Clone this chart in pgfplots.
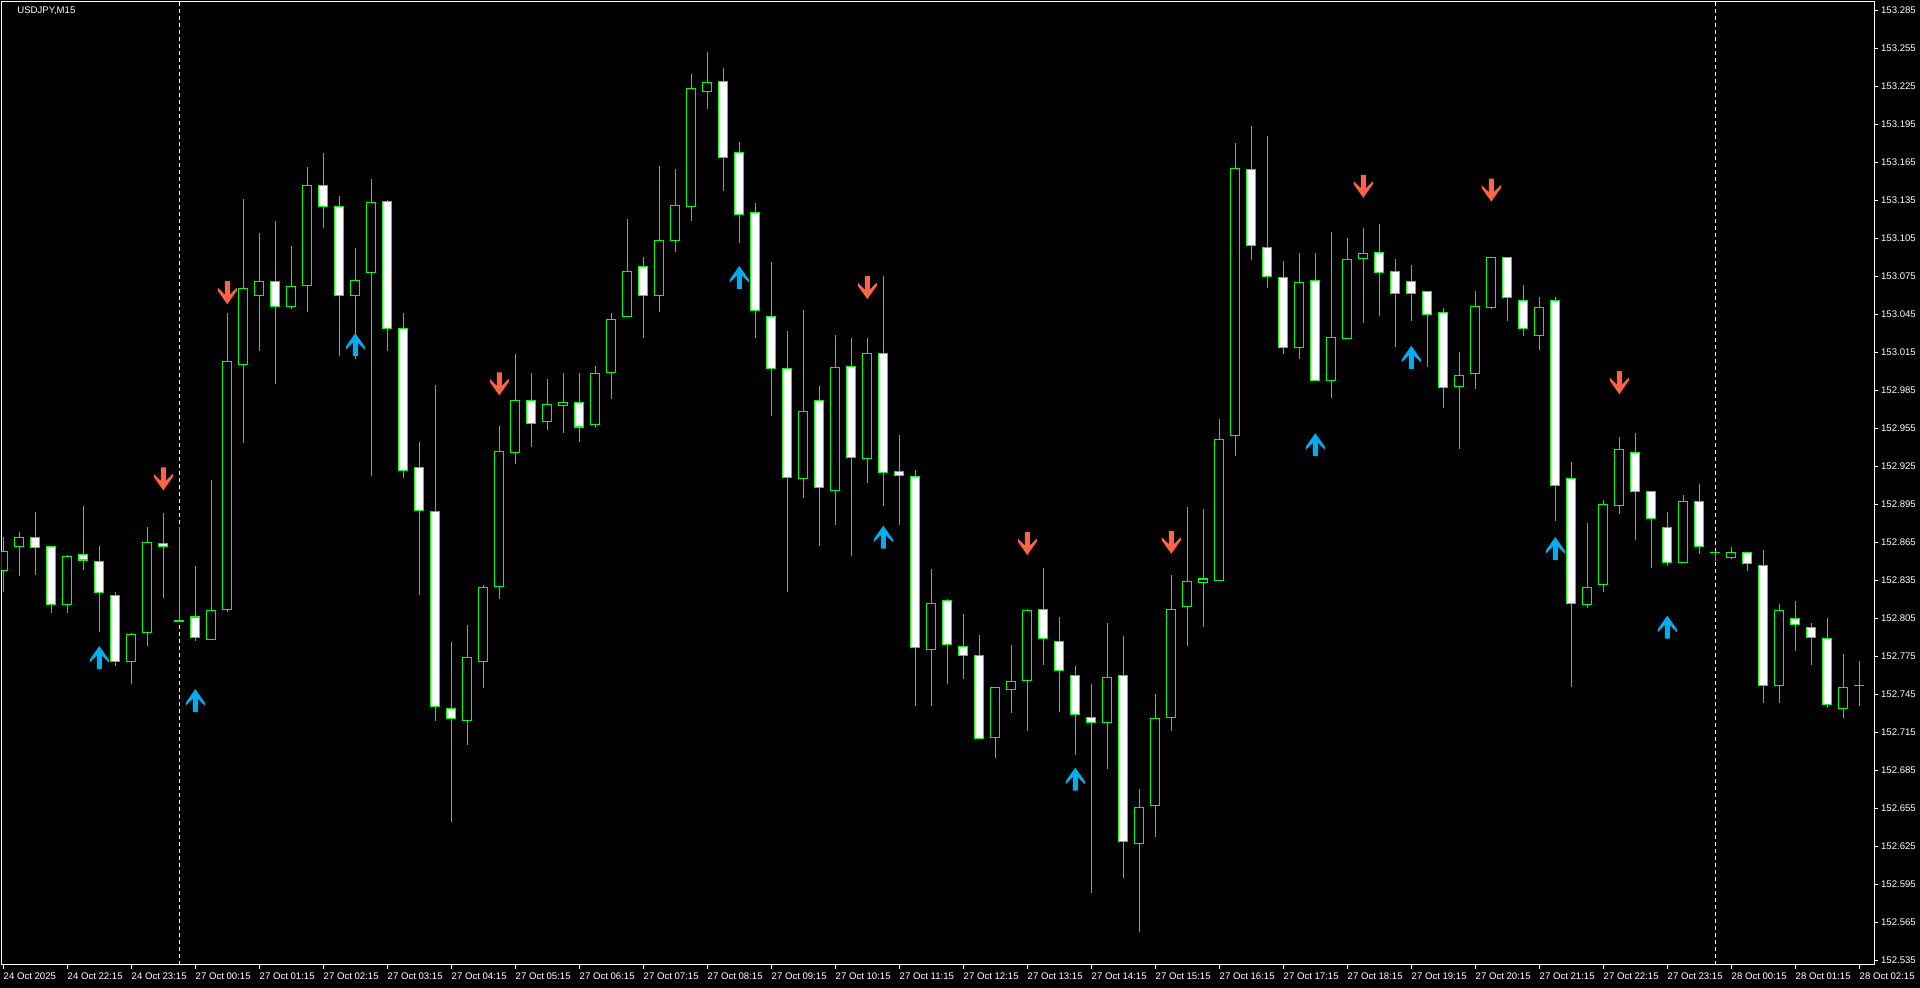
\documentclass[border=0pt]{standalone}
\usepackage{fontspec}
\setmainfont{Liberation Sans}
\usepackage{pgfplots}
\pgfplotsset{compat=1.18}
\usepackage{pgfplotstable}

\definecolor{CGreen}{HTML}{00FF00}
\definecolor{ArrRed}{HTML}{FF6347}
\definecolor{ArrBlue}{HTML}{00AEEF}

% USDJPY M15, bar index i = 0 is 24 Oct 21:15
\pgfplotstableread{
i o h l c
0 152.843 152.869 152.826 152.858
1 152.862 152.873 152.838 152.869
2 152.869 152.889 152.839 152.861
3 152.862 152.862 152.809 152.816
4 152.816 152.855 152.809 152.854
5 152.855 152.894 152.843 152.851
6 152.850 152.862 152.794 152.825
7 152.823 152.826 152.767 152.771
8 152.771 152.793 152.753 152.792
9 152.794 152.877 152.783 152.865
10 152.864 152.888 152.821 152.862
11 152.803 152.877 152.802 152.803
12 152.806 152.846 152.787 152.790
13 152.788 152.914 152.788 152.811
14 152.812 153.046 152.810 153.008
15 153.005 153.136 152.943 153.065
16 153.060 153.109 153.016 153.071
17 153.071 153.119 152.990 153.051
18 153.051 153.099 153.049 153.067
19 153.068 153.161 153.047 153.147
20 153.147 153.172 153.113 153.130
21 153.130 153.138 153.012 153.060
22 153.060 153.097 153.010 153.072
23 153.078 153.152 152.917 153.133
24 153.134 153.135 153.016 153.034
25 153.034 153.046 152.916 152.922
26 152.924 152.944 152.823 152.890
27 152.889 152.989 152.724 152.735
28 152.734 152.786 152.644 152.726
29 152.724 152.800 152.705 152.774
30 152.771 152.831 152.750 152.829
31 152.830 152.957 152.820 152.937
32 152.936 153.014 152.927 152.977
33 152.977 152.999 152.940 152.959
34 152.960 152.994 152.954 152.974
35 152.973 152.999 152.951 152.975
36 152.975 152.999 152.944 152.956
37 152.958 153.004 152.955 152.998
38 152.999 153.046 152.978 153.041
39 153.043 153.120 153.043 153.079
40 153.083 153.090 153.026 153.060
41 153.060 153.162 153.047 153.103
42 153.103 153.160 153.094 153.131
43 153.130 153.235 153.119 153.223
44 153.221 153.252 153.207 153.228
45 153.229 153.239 153.142 153.169
46 153.173 153.181 153.101 153.124
47 153.125 153.133 153.026 153.048
48 153.043 153.086 152.965 153.002
49 153.002 153.032 152.826 152.916
50 152.915 153.048 152.900 152.968
51 152.977 152.988 152.862 152.908
52 152.906 153.029 152.879 153.003
53 153.004 153.026 152.854 152.932
54 152.931 153.026 152.912 153.014
55 153.014 153.075 152.894 152.920
56 152.921 152.950 152.879 152.918
57 152.917 152.922 152.736 152.782
58 152.780 152.844 152.736 152.817
59 152.819 152.820 152.753 152.784
60 152.783 152.808 152.757 152.776
61 152.776 152.792 152.710 152.710
62 152.711 152.750 152.695 152.750
63 152.749 152.784 152.730 152.755
64 152.756 152.812 152.716 152.811
65 152.812 152.845 152.768 152.789
66 152.787 152.806 152.731 152.764
67 152.760 152.767 152.697 152.729
68 152.727 152.753 152.588 152.723
69 152.723 152.801 152.686 152.758
70 152.760 152.791 152.600 152.629
71 152.627 152.670 152.557 152.656
72 152.657 152.745 152.632 152.726
73 152.727 152.839 152.716 152.812
74 152.814 152.893 152.783 152.834
75 152.833 152.891 152.798 152.836
76 152.835 152.962 152.835 152.946
77 152.949 153.180 152.933 153.160
78 153.159 153.194 153.088 153.099
79 153.098 153.186 153.066 153.075
80 153.074 153.087 153.014 153.019
81 153.019 153.093 153.010 153.070
82 153.072 153.093 152.992 152.993
83 152.993 153.110 152.979 153.027
84 153.026 153.105 153.026 153.088
85 153.089 153.113 153.038 153.093
86 153.094 153.116 153.044 153.078
87 153.079 153.089 153.019 153.061
88 153.071 153.084 153.040 153.061
89 153.063 153.063 153.003 153.045
90 153.046 153.050 152.971 152.987
91 152.988 153.015 152.939 152.997
92 152.998 153.063 152.986 153.051
93 153.050 153.090 153.049 153.090
94 153.090 153.090 153.040 153.058
95 153.056 153.068 153.028 153.034
96 153.028 153.059 153.017 153.050
97 153.056 153.059 152.882 152.910
98 152.915 152.928 152.751 152.817
99 152.816 152.880 152.813 152.829
100 152.832 152.898 152.826 152.895
101 152.894 152.948 152.887 152.938
102 152.936 152.951 152.867 152.905
103 152.905 152.905 152.845 152.884
104 152.877 152.889 152.846 152.849
105 152.849 152.902 152.849 152.897
106 152.897 152.911 152.856 152.862
107 152.857 152.858 152.850 152.857
108 152.853 152.861 152.852 152.857
109 152.857 152.857 152.842 152.848
110 152.847 152.859 152.738 152.752
111 152.752 152.816 152.738 152.811
112 152.805 152.819 152.779 152.800
113 152.798 152.801 152.768 152.790
114 152.789 152.805 152.734 152.737
115 152.734 152.777 152.726 152.750
116 152.752 152.771 152.736 152.752
}\ohlc

% signal arrows (centre of the arrow)
\pgfplotstableread{
i p
10 152.915
14 153.062
31 152.990
54 153.066
64 152.864
73 152.865
85 153.146
93 153.143
101 152.991
}\sellarr
\pgfplotstableread{
i p
6 152.774
12 152.740
22 153.021
46 153.074
55 152.869
67 152.678
82 152.942
88 153.011
97 152.860
104 152.798
}\buyarr

\pgfdeclareplotmark{dnarr}{%
  \pgfpathmoveto{\pgfqpoint{-1.25pt}{5.75pt}}%
  \pgfpathlineto{\pgfqpoint{1.25pt}{5.75pt}}%
  \pgfpathlineto{\pgfqpoint{1.25pt}{-1pt}}%
  \pgfpathlineto{\pgfqpoint{4.75pt}{2.5pt}}%
  \pgfpathlineto{\pgfqpoint{4.75pt}{1pt}}%
  \pgfpathlineto{\pgfqpoint{0pt}{-5.75pt}}%
  \pgfpathlineto{\pgfqpoint{-4.75pt}{1pt}}%
  \pgfpathlineto{\pgfqpoint{-4.75pt}{2.5pt}}%
  \pgfpathlineto{\pgfqpoint{-1.25pt}{-1pt}}%
  \pgfpathclose\pgfusepathqfill}
\pgfdeclareplotmark{uparr}{%
  \pgfpathmoveto{\pgfqpoint{-1.25pt}{-5.75pt}}%
  \pgfpathlineto{\pgfqpoint{1.25pt}{-5.75pt}}%
  \pgfpathlineto{\pgfqpoint{1.25pt}{1pt}}%
  \pgfpathlineto{\pgfqpoint{4.75pt}{-2.5pt}}%
  \pgfpathlineto{\pgfqpoint{4.75pt}{-1pt}}%
  \pgfpathlineto{\pgfqpoint{0pt}{5.75pt}}%
  \pgfpathlineto{\pgfqpoint{-4.75pt}{-1pt}}%
  \pgfpathlineto{\pgfqpoint{-4.75pt}{-2.5pt}}%
  \pgfpathlineto{\pgfqpoint{-1.25pt}{1pt}}%
  \pgfpathclose\pgfusepathqfill}

\newcommand{\tinyfont}{\fontsize{4.8}{5}\selectfont}

\pgfplotsset{
  candle/.style={draw=none, mark=none, forget plot,
    error bars/y dir=both, error bars/y explicit, error bars/error mark=none}}

\begin{document}
\begin{tikzpicture}
\fill[black] (0,0) rectangle (960pt,494pt);
\begin{axis}[
  at={(0.75pt,11.5pt)}, anchor=south west,
  scale only axis, width=936.25pt, height=481.5pt,
  xmin=-0.1125, xmax=116.92,
  % prices are plotted as (price - 152.5)
  ymin=0.0313, ymax=0.7915,
  axis line style={white, line width=0.5pt},
  tick style={white, line width=0.5pt},
  tick align=outside, major tick length=2pt,
  xtick pos=left, ytick pos=right, yticklabel pos=right,
  xtick={0,4,...,116},
  xticklabels={24 Oct 2025,24 Oct 22:15,24 Oct 23:15,
    27 Oct 00:15,27 Oct 01:15,27 Oct 02:15,27 Oct 03:15,27 Oct 04:15,27 Oct 05:15,
    27 Oct 06:15,27 Oct 07:15,27 Oct 08:15,27 Oct 09:15,27 Oct 10:15,27 Oct 11:15,
    27 Oct 12:15,27 Oct 13:15,27 Oct 14:15,27 Oct 15:15,27 Oct 16:15,27 Oct 17:15,
    27 Oct 18:15,27 Oct 19:15,27 Oct 20:15,27 Oct 21:15,27 Oct 22:15,27 Oct 23:15,
    28 Oct 00:15,28 Oct 01:15,28 Oct 02:15},
  ytick={0.035,0.065,0.095,0.125,0.155,0.185,0.215,0.245,0.275,0.305,0.335,0.365,0.395,
    0.425,0.455,0.485,0.515,0.545,0.575,0.605,0.635,0.665,0.695,0.725,0.755,0.785},
  yticklabels={152.535,152.565,152.595,152.625,152.655,152.685,152.715,152.745,152.775,
    152.805,152.835,152.865,152.895,152.925,152.955,152.985,153.015,153.045,153.075,
    153.105,153.135,153.165,153.195,153.225,153.255,153.285},
  ticklabel style={font=\tinyfont, text=white},
  xticklabel style={anchor=north west, inner sep=0pt, yshift=-1.75pt},
  yticklabel style={anchor=west, inner sep=0pt, xshift=1.35pt},
]
% period separators
\draw[white, line width=0.5pt, dash pattern=on 2pt off 1.5pt]
  (axis cs:11,0.0313) -- (axis cs:11,0.7915);
\draw[white, line width=0.5pt, dash pattern=on 2pt off 1.5pt]
  (axis cs:107,0.0313) -- (axis cs:107,0.7915);
% wicks
\addplot[candle, error bars/error bar style={draw=CGreen, line width=0.5pt}]
  table[x=i, y expr={(\thisrow{h}-152.5+\thisrow{l}-152.5)/2},
        y error expr={(\thisrow{h}-\thisrow{l})/2}] {\ohlc};
% body outlines
\addplot[candle, error bars/error bar style={draw=CGreen, line width=5pt}]
  table[x=i, y expr={(\thisrow{o}-152.5+\thisrow{c}-152.5)/2},
        y error expr={abs(\thisrow{c}-\thisrow{o})/2+0.0004}] {\ohlc};
% bearish bodies: white
\addplot[candle, restrict expr to domain={\thisrow{o}-\thisrow{c}}{0.0012:1},
  error bars/error bar style={draw=white, line width=4pt}]
  table[x=i, y expr={(\thisrow{o}-152.5+\thisrow{c}-152.5)/2},
        y error expr={abs(\thisrow{c}-\thisrow{o})/2-0.0004}] {\ohlc};
% bullish bodies: hollow
\addplot[candle, restrict expr to domain={\thisrow{c}-\thisrow{o}}{0.0012:1},
  error bars/error bar style={draw=black, line width=4pt}]
  table[x=i, y expr={(\thisrow{o}-152.5+\thisrow{c}-152.5)/2},
        y error expr={abs(\thisrow{c}-\thisrow{o})/2-0.0004}] {\ohlc};
% arrows
\addplot[only marks, mark=dnarr, color=ArrRed]
  table[x=i, y expr={\thisrow{p}-152.5}] {\sellarr};
\addplot[only marks, mark=uparr, color=ArrBlue]
  table[x=i, y expr={\thisrow{p}-152.5}] {\buyarr};
\end{axis}
\node[anchor=north west, inner sep=0pt, font=\tinyfont, text=white]
  at (8.5pt,490.75pt) {USDJPY,M15};
\pgfresetboundingbox
\useasboundingbox (0,0) rectangle (960pt,494pt);
\end{tikzpicture}
\end{document}
